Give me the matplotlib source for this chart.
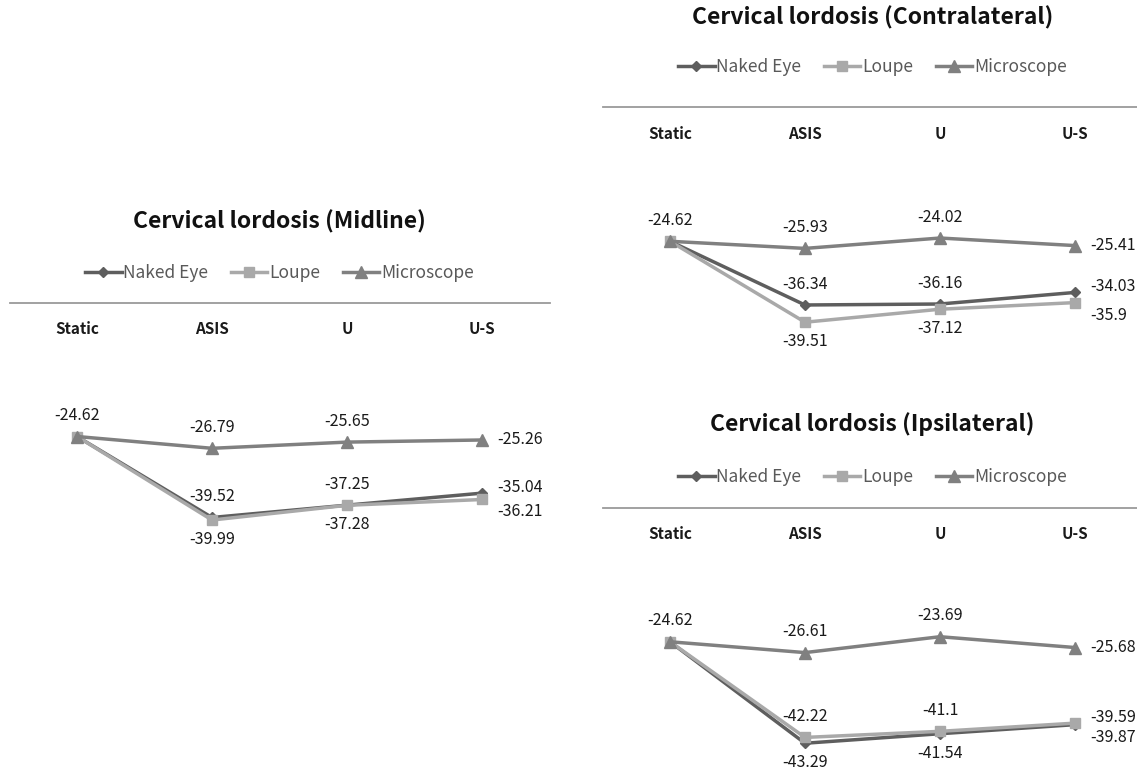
import matplotlib
matplotlib.use("Agg")
import matplotlib.pyplot as plt
from matplotlib.lines import Line2D

plt.rcParams['font.family'] = ['Noto Sans CJK KR', 'DejaVu Sans']

# 데이터
categories = ['Static', 'ASIS', 'U', 'U-S']
series_names = ['Naked Eye', 'Loupe', 'Microscope']

midline_naked = [-24.62, -39.52, -37.25, -35.04]
midline_loupe = [-24.62, -39.99, -37.28, -36.21]
midline_micro = [-24.62, -26.79, -25.65, -25.26]

contra_naked = [-24.62, -36.34, -36.16, -34.03]
contra_loupe = [-24.62, -39.51, -37.12, -35.9]
contra_micro = [-24.62, -25.93, -24.02, -25.41]

ipsi_naked = [-24.62, -43.29, -41.54, -39.87]
ipsi_loupe = [-24.62, -42.22, -41.1, -39.59]
ipsi_micro = [-24.62, -26.61, -23.69, -25.68]

# 스타일
colors = ['#5e5e5e', '#a9a9a9', '#808080']
markers = ['D', 's', '^']
msizes = [5, 7, 8]

# label placement: (dx, dy) in points, ha, va
POS = {
    'above': (0, 15, 'center', 'center'),
    'below': (0, -14, 'center', 'center'),
    'right': (11, 0, 'left', 'center'),
    'right_up': (11, 4, 'left', 'center'),
    'right_dn': (11, -9, 'left', 'center'),
}

panels = [
    dict(title='Cervical lordosis (Midline)',
         data=[midline_naked, midline_loupe, midline_micro],
         labels=[[None, 'above', 'above', 'right_up'],
                 [None, 'below', 'below', 'right_dn'],
                 ['above', 'above', 'above', 'right']],
         rect=[9.5 / 1137, 0.2905, 540 / 1137, 250 / 779],
         title_y=1 - 222 / 779, legend_y=1 - 273 / 779),
    dict(title='Cervical lordosis (Contralateral)',
         data=[contra_naked, contra_loupe, contra_micro],
         labels=[[None, 'above', 'above', 'right_up'],
                 [None, 'below', 'below', 'right_dn'],
                 ['above', 'above', 'above', 'right']],
         rect=[602.5 / 1137, 0.5411, 540 / 1137, 250 / 779],
         title_y=1 - 18 / 779, legend_y=1 - 67 / 779),
    dict(title='Cervical lordosis (Ipsilateral)',
         data=[ipsi_naked, ipsi_loupe, ipsi_micro],
         labels=[[None, 'below', 'below', 'right_dn'],
                 [None, 'above', 'above', 'right_up'],
                 ['above', 'above', 'above', 'right']],
         rect=[602.5 / 1137, 0.027, 540 / 1137, 250 / 779],
         title_y=1 - 424 / 779, legend_y=1 - 477 / 779),
]

fig = plt.figure(figsize=(11.37, 7.79), dpi=100)

for p in panels:
    ax = fig.add_axes(p['rect'])
    x = list(range(len(categories)))
    for vals, c, m, ms, name in zip(p['data'], colors, markers, msizes, series_names):
        ax.plot(x, vals, color=c, lw=2.5, marker=m, ms=ms, mfc=c, mec=c,
                label=name, clip_on=False, zorder=3)
    for vals, pos_list in zip(p['data'], p['labels']):
        for xi, v, pos in zip(x, vals, pos_list):
            if pos is None:
                continue
            dx, dy, ha, va = POS[pos]
            ax.annotate(f'{v:g}', (xi, v), xytext=(dx, dy), textcoords='offset points',
                        ha=ha, va=va, fontsize=11.5, color='#1a1a1a', annotation_clip=False)

    ax.set_xlim(-0.5, 3.5)
    ax.set_ylim(-46, 0)
    for s in ['top', 'left', 'right']:
        ax.spines[s].set_visible(False)
    ax.spines['bottom'].set_position(('data', 0))
    ax.spines['bottom'].set_color('#9a9a9a')
    ax.spines['bottom'].set_linewidth(1.3)
    ax.set_xticks(x)
    ax.set_xticklabels(categories, fontsize=11, fontweight='bold', color='#1a1a1a')
    ax.tick_params(axis='x', length=0, pad=13)
    ax.set_yticks([])
    ax.patch.set_alpha(0)

    cx = p['rect'][0] + p['rect'][2] / 2
    fig.text(cx, p['title_y'], p['title'], ha='center', va='center',
             fontsize=16.5, fontweight='bold', color='#111111')
    handles = [Line2D([], [], color=c, lw=2.5, marker=m, ms=ms, mfc=c, mec=c)
               for c, m, ms in zip(colors, markers, msizes)]
    leg = ax.legend(handles, series_names, loc='center', ncol=3, frameon=False,
                    fontsize=12.5, handlelength=2.1, handletextpad=0.1,
                    columnspacing=1.3, labelcolor='#595959')
    leg.set_bbox_to_anchor((cx, p['legend_y']), transform=fig.transFigure)

fig.savefig('out.png', dpi=100, facecolor='white')
